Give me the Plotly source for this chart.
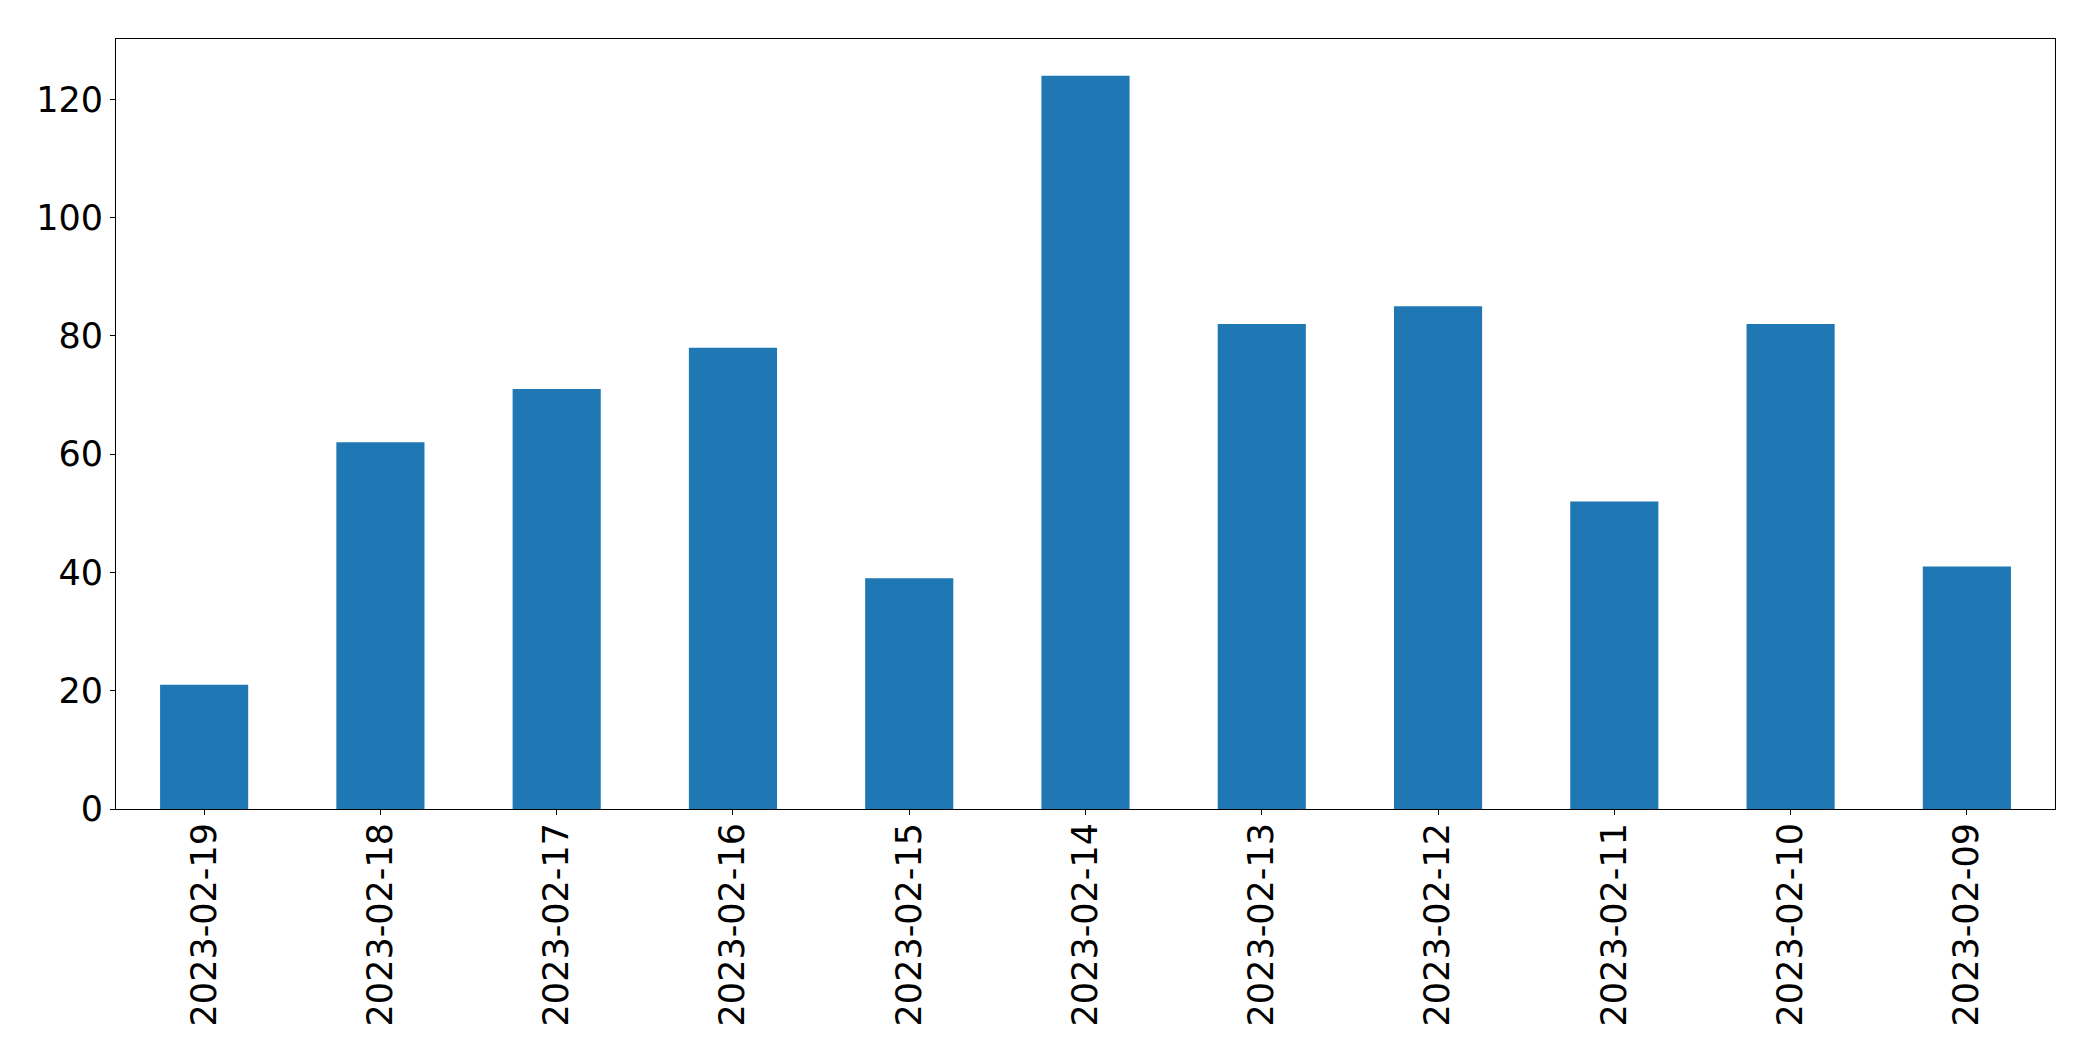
import plotly.graph_objects as go

dates = ["2023-02-19", "2023-02-18", "2023-02-17", "2023-02-16", "2023-02-15", "2023-02-14",
         "2023-02-13", "2023-02-12", "2023-02-11", "2023-02-10", "2023-02-09"]
counts = [21, 62, 71, 78, 39, 124, 82, 85, 52, 82, 41]
y_ticks = [0, 20, 40, 60, 80, 100, 120]

fig = go.Figure(go.Bar(x=list(range(len(dates))), y=counts, width=0.5,
                       marker=dict(color="#1f77b4", line=dict(width=0))))

fig.update_layout(
    width=2093, height=1061,
    margin=dict(l=116, r=38, t=39, b=252),
    plot_bgcolor="white", paper_bgcolor="white",
    font=dict(family="DejaVu Sans", size=35, color="black"),
    showlegend=False,
)
fig.update_xaxes(
    range=[-0.5, len(dates) - 0.5],
    tickmode="array", tickvals=list(range(len(dates))), ticktext=dates,
    tickangle=-90, ticks="outside", ticklen=5, tickwidth=1, tickcolor="black",
    ticklabelstandoff=-6,
    showline=True, linecolor="black", linewidth=1, mirror=True,
    showgrid=False, zeroline=False,
)
fig.update_yaxes(
    range=[0, 130.2],
    tickmode="array", tickvals=y_ticks,
    ticks="outside", ticklen=5, tickwidth=1, tickcolor="black",
    showline=True, linecolor="black", linewidth=1, mirror=True,
    showgrid=False, zeroline=False,
)
fig.write_html("out.html")
